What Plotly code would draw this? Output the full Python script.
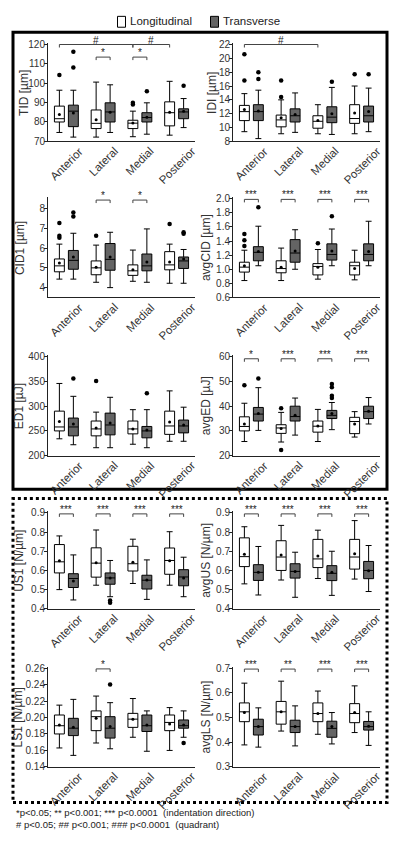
import plotly.graph_objects as go

# ---------------- data ----------------
CATEGORIES = ["Anterior", "Lateral", "Medial", "Posterior"]
SERIES = ["Longitudinal", "Transverse"]

# per quadrant: [lower whisker, Q1, median, Q3, upper whisker, mean]
TID_L = [[74.6, 80.0, 81.7, 88.2, 96.4, 83.9], [72.2, 76.6, 79.3, 86.2, 100.6, 81.1],
         [72.4, 76.6, 79.4, 80.9, 85.6, 79.5], [73.2, 78.0, 84.8, 90.4, 101.0, 85.0]]
TID_T = [[72.2, 77.6, 85.6, 88.7, 96.4, 84.7], [74.6, 80.0, 85.2, 89.9, 99.2, 85.0],
         [73.7, 80.0, 82.3, 84.8, 89.9, 82.5], [77.1, 81.7, 85.2, 86.8, 92.1, 85.5]]
TID_L_OUT = [[104.3], [], [89.0, 89.9], []]
TID_T_OUT = [[116.3, 108.1], [], [95.9], [98.7]]

IDI_L = [[9.4, 11.0, 12.3, 13.2, 14.9, 12.6], [9.1, 10.1, 11.1, 11.8, 14.0, 11.4],
         [9.1, 9.9, 10.9, 11.7, 13.3, 11.0], [9.1, 10.6, 11.3, 13.3, 16.0, 12.1]]
IDI_T = [[8.4, 11.0, 12.3, 13.3, 15.4, 12.4], [9.3, 10.8, 11.7, 12.7, 15.0, 11.9],
         [9.0, 10.7, 11.5, 13.0, 15.8, 12.0], [9.4, 10.8, 11.7, 13.1, 15.7, 12.3]]
IDI_L_OUT = [[20.6, 16.8], [16.8, 14.4], [], [17.7]]
IDI_T_OUT = [[18.0, 17.0], [], [16.6], [17.7]]

CID1_L = [[4.43, 4.80, 5.10, 5.45, 6.20, 5.25], [4.27, 4.65, 5.00, 5.35, 6.15, 5.03],
          [4.32, 4.62, 4.85, 5.15, 5.90, 4.90], [4.22, 4.90, 5.15, 5.82, 6.20, 5.30]]
CID1_T = [[4.43, 4.93, 5.38, 5.88, 6.75, 5.55], [4.00, 4.88, 5.43, 6.23, 6.80, 5.55],
          [4.27, 4.85, 5.10, 5.70, 6.97, 5.30], [4.22, 4.97, 5.35, 5.55, 5.93, 5.45]]
CID1_L_OUT = [[7.27, 6.62, 6.52], [6.62], [], [7.22]]
CID1_T_OUT = [[7.80, 7.60], [], [], [6.72, 6.80]]

AVGCID_L = [[0.84, 0.96, 1.03, 1.10, 1.27, 1.05], [0.84, 0.95, 1.01, 1.12, 1.30, 1.03],
            [0.86, 0.92, 1.04, 1.08, 1.28, 1.03], [0.85, 0.92, 1.05, 1.10, 1.27, 1.01]]
AVGCID_T = [[1.05, 1.12, 1.24, 1.32, 1.61, 1.25], [1.00, 1.10, 1.23, 1.42, 1.56, 1.26],
            [1.05, 1.13, 1.21, 1.36, 1.57, 1.26], [1.05, 1.12, 1.21, 1.36, 1.68, 1.25]]
AVGCID_L_OUT = [[1.50, 1.41, 1.33], [], [1.37], []]
AVGCID_T_OUT = [[1.88], [], [1.75], []]

ED1_L = [[234, 250, 258, 290, 346, 269], [216, 240, 254, 270, 288, 256],
         [223, 244, 254, 270, 293, 254], [229, 243, 260, 290, 331, 268]]
ED1_T = [[222, 240, 258, 276, 320, 264], [216, 242, 262, 286, 318, 266],
         [216, 236, 250, 259, 293, 252], [229, 246, 260, 272, 298, 262]]
ED1_L_OUT = [[], [351], [], []]
ED1_T_OUT = [[356], [], [326], []]

AVGED_L = [[25.7, 30.0, 31.8, 35.7, 41.2, 32.8], [25.5, 29.0, 31.2, 32.5, 37.5, 31.0],
           [25.7, 29.5, 31.9, 34.0, 38.7, 32.0], [27.5, 28.9, 33.8, 35.5, 37.8, 32.8]]
AVGED_T = [[30.2, 34.0, 36.8, 39.5, 47.5, 37.0], [28.3, 34.0, 35.8, 40.0, 43.3, 36.3],
           [30.5, 35.0, 36.3, 38.3, 41.5, 37.0], [32.8, 35.0, 37.8, 40.0, 43.5, 38.0]]
AVGED_L_OUT = [[48.5], [39.2, 22.3], [], []]
AVGED_T_OUT = [[51.2], [], [49.0, 47.7, 44.2, 43.3], []]

US1_L = [[0.50, 0.587, 0.645, 0.735, 0.78, 0.65], [0.523, 0.565, 0.638, 0.718, 0.811, 0.64],
         [0.532, 0.597, 0.635, 0.726, 0.763, 0.643], [0.523, 0.58, 0.652, 0.717, 0.802, 0.65]]
US1_T = [[0.446, 0.511, 0.558, 0.583, 0.681, 0.545], [0.463, 0.528, 0.561, 0.587, 0.652, 0.56],
         [0.449, 0.503, 0.549, 0.575, 0.655, 0.55], [0.463, 0.52, 0.566, 0.604, 0.669, 0.561]]
US1_L_OUT = [[], [], [], []]
US1_T_OUT = [[], [0.443, 0.432], [], []]

AVGUS_L = [[0.53, 0.62, 0.672, 0.77, 0.828, 0.685], [0.55, 0.60, 0.67, 0.755, 0.835, 0.68],
           [0.558, 0.615, 0.66, 0.762, 0.81, 0.675], [0.555, 0.607, 0.67, 0.762, 0.86, 0.687]]
AVGUS_T = [[0.472, 0.548, 0.59, 0.63, 0.725, 0.59], [0.46, 0.56, 0.595, 0.635, 0.695, 0.595],
           [0.47, 0.547, 0.585, 0.625, 0.70, 0.59], [0.49, 0.557, 0.60, 0.647, 0.73, 0.598]]
AVGUS_L_OUT = [[], [], [], []]
AVGUS_T_OUT = [[], [], [], []]

LS1_L = [[0.163, 0.180, 0.190, 0.203, 0.215, 0.191], [0.169, 0.184, 0.201, 0.208, 0.226, 0.199],
         [0.176, 0.188, 0.198, 0.205, 0.223, 0.198], [0.160, 0.184, 0.194, 0.203, 0.212, 0.192]]
LS1_T = [[0.154, 0.178, 0.187, 0.199, 0.222, 0.188], [0.162, 0.175, 0.187, 0.201, 0.218, 0.189],
         [0.159, 0.183, 0.190, 0.203, 0.208, 0.191], [0.176, 0.187, 0.190, 0.197, 0.208, 0.191]]
LS1_L_OUT = [[], [], [], []]
LS1_T_OUT = [[], [0.240], [], [0.169]]

AVGLS_L = [[0.389, 0.483, 0.523, 0.559, 0.639, 0.52], [0.445, 0.473, 0.523, 0.565, 0.647, 0.523],
           [0.432, 0.483, 0.516, 0.559, 0.607, 0.516], [0.439, 0.479, 0.516, 0.556, 0.628, 0.52]]
AVGLS_T = [[0.380, 0.429, 0.463, 0.493, 0.539, 0.463], [0.385, 0.439, 0.463, 0.489, 0.547, 0.463],
           [0.393, 0.420, 0.456, 0.485, 0.520, 0.463], [0.387, 0.449, 0.463, 0.484, 0.523, 0.465]]
AVGLS_L_OUT = [[], [], [], []]
AVGLS_T_OUT = [[], [], [], []]

# significance: Longitudinal vs Transverse within each quadrant
TID_SIG = ["", "*", "*", ""]
IDI_SIG = ["", "", "", ""]
CID1_SIG = ["", "*", "*", ""]
AVGCID_SIG = ["***", "***", "***", "***"]
ED1_SIG = ["", "", "", ""]
AVGED_SIG = ["*", "***", "***", "***"]
US1_SIG = ["***", "***", "***", "***"]
AVGUS_SIG = ["***", "***", "***", "***"]
LS1_SIG = ["", "*", "", ""]
AVGLS_SIG = ["***", "**", "***", "***"]

# significance between quadrants (Longitudinal): (from, to, label)
TID_QUAD = [("Anterior", "Medial", "#"), ("Medial", "Posterior", "#")]
IDI_QUAD = [("Anterior", "Medial", "#")]

FOOTNOTES = ["*p<0.05; ** p<0.001; *** p<0.0001  (indentation direction)",
             "# p<0.05; ## p<0.001; ### p<0.0001  (quadrant)"]

# ---------------- layout helpers ----------------
W, H = 400, 848
FONT = "Liberation Sans, Arial, sans-serif"
TXT = "#333333"
GRAY = "#646464"
OFF = 0.19
BOXW = 0.27

COLS = [(48, 195), (233, 380)]
ROWS = [(41, 139), (197, 297), (357, 457), (515, 612), (672, 772)]
TITLE_X = [[24, 212], [20, 206], [19, 206], [19, 206], [18, 206]]

panels = [
    dict(t="TID [µm]", L=TID_L, T=TID_T, Lo=TID_L_OUT, To=TID_T_OUT, rng=(70, 120), dt=10, fmt="d",
         sig=TID_SIG, sl=113.5, quad=TID_QUAD, ql=120),
    dict(t="IDI [µm]", L=IDI_L, T=IDI_T, Lo=IDI_L_OUT, To=IDI_T_OUT, rng=(8, 22), dt=2, fmt="d",
         sig=IDI_SIG, sl=22, quad=IDI_QUAD, ql=22),
    dict(t="CID1 [µm]", L=CID1_L, T=CID1_T, Lo=CID1_L_OUT, To=CID1_T_OUT, rng=(3.5, 8.5), dt=1, fmt="d",
         sig=CID1_SIG, sl=8.43, quad=[], ql=0, t0=4),
    dict(t="avgCID [µm]", L=AVGCID_L, T=AVGCID_T, Lo=AVGCID_L_OUT, To=AVGCID_T_OUT, rng=(0.6, 2.0), dt=0.2,
         fmt=".1f", sig=AVGCID_SIG, sl=1.99, quad=[], ql=0),
    dict(t="ED1 [µJ]", L=ED1_L, T=ED1_T, Lo=ED1_L_OUT, To=ED1_T_OUT, rng=(200, 400), dt=50, fmt="d",
         sig=ED1_SIG, sl=400, quad=[], ql=0),
    dict(t="avgED [µJ]", L=AVGED_L, T=AVGED_T, Lo=AVGED_L_OUT, To=AVGED_T_OUT, rng=(20, 60), dt=10, fmt="d",
         sig=AVGED_SIG, sl=59.2, quad=[], ql=0),
    dict(t="US1 [N/µm]", L=US1_L, T=US1_T, Lo=US1_L_OUT, To=US1_T_OUT, rng=(0.4, 0.9), dt=0.1, fmt=".1f",
         sig=US1_SIG, sl=0.895, quad=[], ql=0),
    dict(t="avgUS [N/µm]", L=AVGUS_L, T=AVGUS_T, Lo=AVGUS_L_OUT, To=AVGUS_T_OUT, rng=(0.4, 0.9), dt=0.1,
         fmt=".1f", sig=AVGUS_SIG, sl=0.895, quad=[], ql=0),
    dict(t="LS1 [N/µm]", L=LS1_L, T=LS1_T, Lo=LS1_L_OUT, To=LS1_T_OUT, rng=(0.14, 0.26), dt=0.02, fmt=".2f",
         sig=LS1_SIG, sl=0.259, quad=[], ql=0),
    dict(t="avgLS [N/µm]", L=AVGLS_L, T=AVGLS_T, Lo=AVGLS_L_OUT, To=AVGLS_T_OUT, rng=(0.3, 0.7), dt=0.1,
         fmt=".1f", sig=AVGLS_SIG, sl=0.696, quad=[], ql=0),
]

fig = go.Figure()
shapes = []
annotations = []
layout_axes = {}
idx = list(range(len(CATEGORIES)))

for k, p in enumerate(panels):
    r, c = divmod(k, 2)
    n = k + 1
    xa, ya = ("x" if n == 1 else f"x{n}"), ("y" if n == 1 else f"y{n}")
    xl, xr = COLS[c]
    top, bot = ROWS[r]
    lo, hi = p["rng"]
    pad = 1.5 * (hi - lo) / (bot - top)
    for s, key, fill in ((0, "L", "white"), (1, "T", GRAY)):
        st = p[key]
        pos = [i + (OFF if s else -OFF) for i in idx]
        fig.add_trace(go.Box(
            x=pos, lowerfence=[v[0] for v in st], q1=[v[1] for v in st], median=[v[2] for v in st],
            q3=[v[3] for v in st], upperfence=[v[4] for v in st], width=BOXW, whiskerwidth=0.6,
            fillcolor=fill, line=dict(color="black", width=1), boxpoints=False,
            name=SERIES[s], showlegend=False, hoverinfo="skip", xaxis=xa, yaxis=ya))
        fig.add_trace(go.Scatter(
            x=pos, y=[v[5] for v in st], mode="markers", marker=dict(color="black", size=3),
            showlegend=False, hoverinfo="skip", xaxis=xa, yaxis=ya, cliponaxis=False))
        outs = p[key + "o"]
        ox = [pos[i] for i in idx for _ in outs[i]]
        oy = [v for i in idx for v in outs[i]]
        if oy:
            fig.add_trace(go.Scatter(
                x=ox, y=oy, mode="markers", marker=dict(color="black", size=4.5),
                showlegend=False, hoverinfo="skip", xaxis=xa, yaxis=ya, cliponaxis=False))

    ax_common = dict(showgrid=False, zeroline=False, showline=True, linecolor="#222", linewidth=1)
    layout_axes["xaxis" + ("" if n == 1 else str(n))] = dict(
        ax_common, domain=[xl / W, xr / W], range=[-0.5, len(CATEGORIES) - 0.5],
        showticklabels=False, ticks="", anchor=ya, fixedrange=True)
    layout_axes["yaxis" + ("" if n == 1 else str(n))] = dict(
        ax_common, domain=[1 - bot / H, 1 - (top - 1.5) / H], range=[lo, hi + pad],
        tick0=p.get("t0", lo), dtick=p["dt"], tickformat=p["fmt"], ticks="outside", ticklen=3,
        ticklabelstandoff=-3,
        tickcolor="#222", tickfont=dict(family=FONT, size=10, color=TXT), anchor=xa, fixedrange=True)

    # category labels
    for i, cat in enumerate(CATEGORIES):
        annotations.append(dict(
            x=i, y=1 - (bot + 1) / H, xref=xa, yref="paper", text=cat, textangle=-45,
            xanchor="center", yanchor="top", showarrow=False,
            font=dict(family=FONT, size=11.5, color=TXT)))
    # y title
    annotations.append(dict(
        x=TITLE_X[r][c] / W, y=1 - (top + bot) / 2 / H, xref="paper", yref="paper", text=p["t"],
        textangle=-90, xanchor="center", yanchor="middle", showarrow=False,
        font=dict(family=FONT, size=12, color=TXT)))

    def bracket(x1, x2, lvl, label):
        shapes.append(dict(
            type="path", xref=xa, yref=ya, ysizemode="pixel", yanchor=lvl,
            path=f"M {x1},-3 L {x1},0 L {x2},0 L {x2},-3",
            line=dict(color="#444", width=1)))
        annotations.append(dict(
            x=(x1 + x2) / 2, y=lvl, xref=xa, yref=ya, text=label, showarrow=False,
            xanchor="center", yanchor="bottom", yshift=-3,
            font=dict(family=FONT, size=10, color="#222")))

    for i, lab in enumerate(p["sig"]):
        if lab:
            bracket(i - OFF, i + OFF, p["sl"], lab)
    for a, b, lab in p["quad"]:
        bracket(CATEGORIES.index(a) - OFF, CATEGORIES.index(b) - OFF, p["ql"], lab)

# frames
shapes.append(dict(type="rect", xref="paper", yref="paper", x0=13 / W, x1=387 / W,
                   y0=1 - 491 / H, y1=1 - 28.5 / H, line=dict(color="black", width=3)))
shapes.append(dict(type="rect", xref="paper", yref="paper", x0=13 / W, x1=387 / W,
                   y0=1 - 808 / H, y1=1 - 500.5 / H, line=dict(color="black", width=3, dash="dot")))

# legend (manual)
for (x0, x1, tx, fill, name) in ((117.5, 125.5, 128, "white", SERIES[0]),
                                 (210.5, 218.5, 221, GRAY, SERIES[1])):
    shapes.append(dict(type="rect", xref="paper", yref="paper", x0=x0 / W, x1=x1 / W,
                       y0=1 - 23.5 / H, y1=1 - 12.5 / H, fillcolor=fill,
                       line=dict(color="black", width=1)))
    annotations.append(dict(x=tx / W, y=1 - 17.5 / H, xref="paper", yref="paper", text=name,
                            xanchor="left", yanchor="middle", showarrow=False,
                            font=dict(family=FONT, size=11.5, color="#222")))

# footnotes
for j, line in enumerate(FOOTNOTES):
    annotations.append(dict(x=14 / W, y=1 - (818 + 12 * j) / H, xref="paper", yref="paper",
                            text=line, xanchor="left", yanchor="middle", showarrow=False,
                            font=dict(family=FONT, size=9.5, color="#222")))

fig.update_layout(
    width=W, height=H, margin=dict(l=0, r=0, t=0, b=0),
    paper_bgcolor="white", plot_bgcolor="white", showlegend=False,
    boxmode="overlay", shapes=shapes, annotations=annotations, **layout_axes)

fig.write_html("out.html", config=dict(displayModeBar=False),
               post_script="document.body.style.margin='0px';document.body.style.overflow='hidden';")
